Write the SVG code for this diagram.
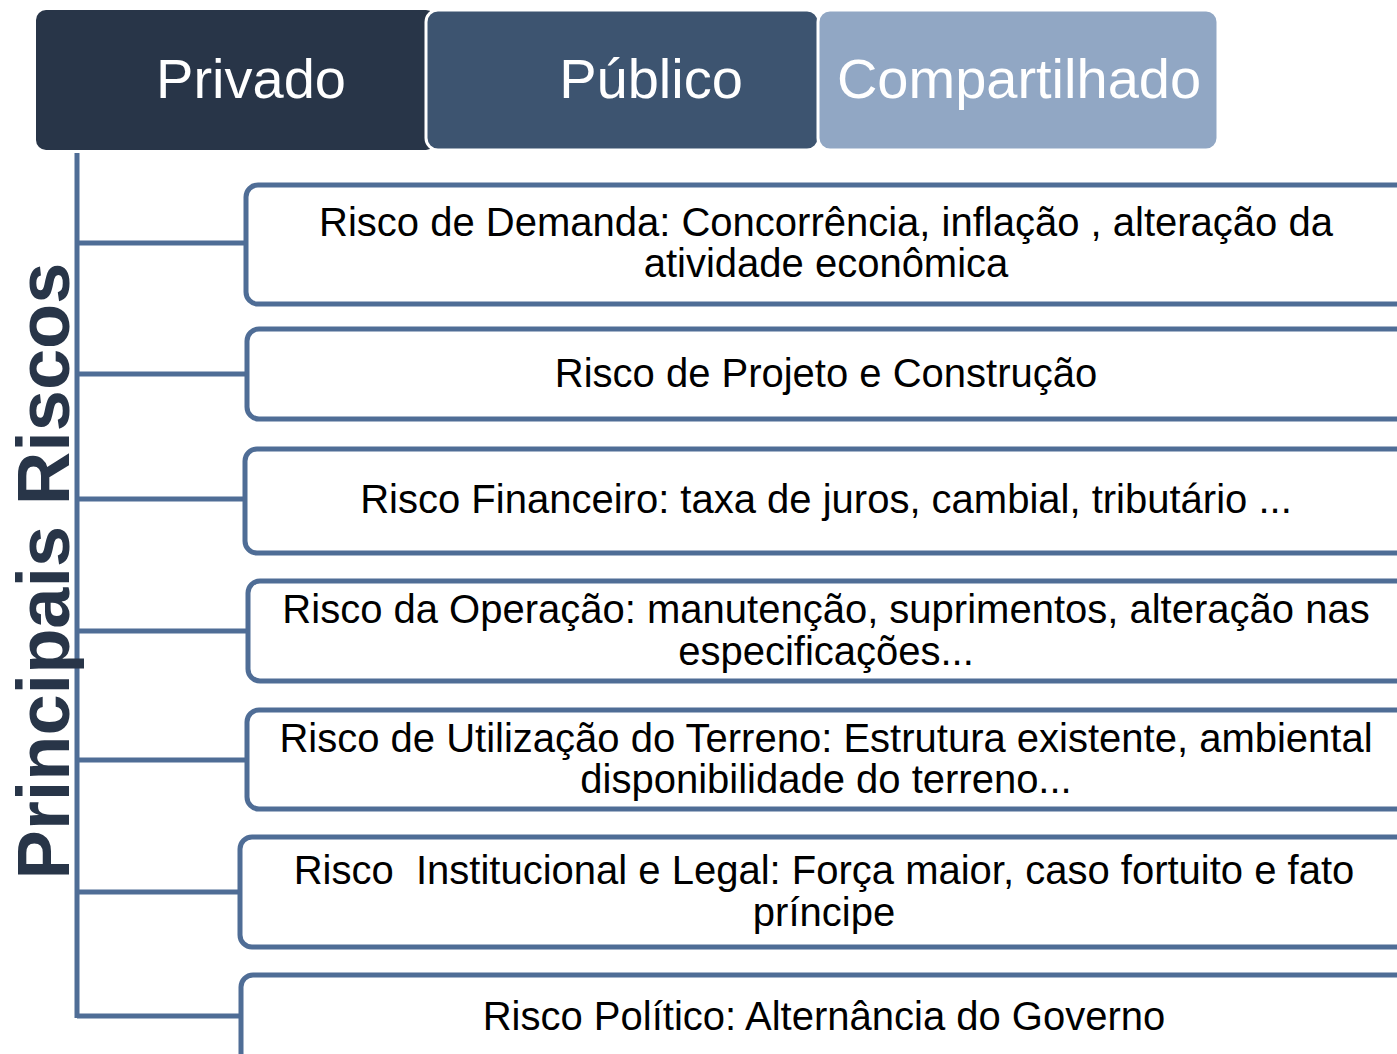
<svg xmlns="http://www.w3.org/2000/svg" width="1397" height="1054" viewBox="0 0 1397 1054">
<style>
.hdr{font-family:"Liberation Sans",Arial,sans-serif;font-size:56px;fill:#ffffff;text-anchor:middle}
.box{fill:#ffffff;stroke:#4f6d96;stroke-width:5}
.txt{font-family:"Liberation Sans",Arial,sans-serif;font-size:40px;fill:#000000;text-anchor:middle}
.ln{stroke:#4f6d96;stroke-width:5;fill:none}
.title{font-family:"Liberation Sans",Arial,sans-serif;font-size:74px;font-weight:bold;fill:#283548;text-anchor:middle}
</style>
<rect width="1397" height="1054" fill="#ffffff"/>
<g id="privado">
<rect x="36" y="10" width="400" height="140" rx="10" fill="#283548"/>
<text class="hdr" x="251" y="98">Privado</text>
</g>
<g id="publico">
<rect x="426" y="10" width="393" height="140" rx="12" fill="#3d5470" stroke="#ffffff" stroke-width="3"/>
<text class="hdr" x="651" y="98">Público</text>
</g>
<g id="compartilhado">
<rect x="818" y="10" width="400" height="140" rx="12" fill="#91a7c4" stroke="#ffffff" stroke-width="3"/>
<text class="hdr" x="1019" y="98">Compartilhado</text>
</g>
<g id="connectors">
<path class="ln" d="M77 153 V1018 M77 243 H246 M77 374 H247 M77 499 H245 M77 631 H248 M77 760 H247 M77 892 H240 M77 1016 H241"/>
</g>
<g id="titulo">
<text class="title" transform="translate(69,571) rotate(-90)">Principais Riscos</text>
</g>
<g id="r1">
<rect class="box" x="246" y="185" width="1180" height="119" rx="12"/>
<text class="txt" x="826" y="236">Risco de Demanda: Concorrência, inflação , alteração da</text>
<text class="txt" x="826" y="277">atividade econômica</text>
</g>
<g id="r2">
<rect class="box" x="247" y="329" width="1180" height="90" rx="12"/>
<text class="txt" x="826" y="387">Risco de Projeto e Construção</text>
</g>
<g id="r3">
<rect class="box" x="245" y="449" width="1180" height="104" rx="12"/>
<text class="txt" x="826" y="513">Risco Financeiro: taxa de juros, cambial, tributário ...</text>
</g>
<g id="r4">
<rect class="box" x="248" y="581" width="1180" height="100" rx="12"/>
<text class="txt" x="826" y="623">Risco da Operação: manutenção, suprimentos, alteração nas</text>
<text class="txt" x="826" y="665">especificações...</text>
</g>
<g id="r5">
<rect class="box" x="247" y="710" width="1180" height="99" rx="12"/>
<text class="txt" x="826" y="752">Risco de Utilização do Terreno: Estrutura existente, ambiental</text>
<text class="txt" x="826" y="793">disponibilidade do terreno...</text>
</g>
<g id="r6">
<rect class="box" x="240" y="837" width="1180" height="110" rx="12"/>
<text class="txt" x="824" y="884" xml:space="preserve">Risco  Institucional e Legal: Força maior, caso fortuito e fato</text>
<text class="txt" x="824" y="926">príncipe</text>
</g>
<g id="r7">
<rect class="box" x="241" y="975" width="1180" height="110" rx="12"/>
<text class="txt" x="824" y="1030">Risco Político: Alternância do Governo</text>
</g>
</svg>
